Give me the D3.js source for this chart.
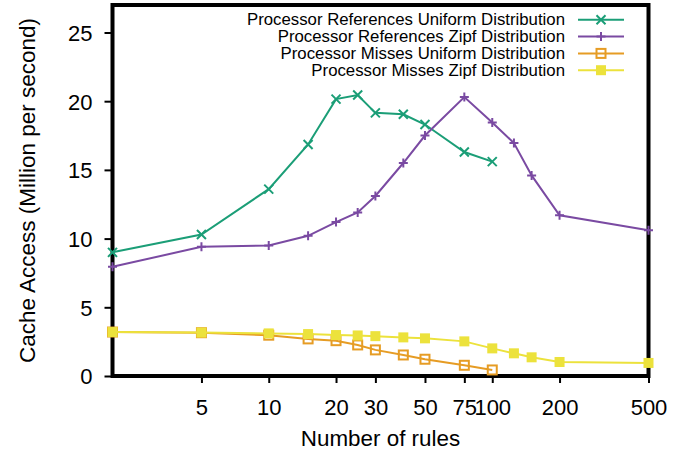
<!DOCTYPE html>
<html>
<head>
<meta charset="utf-8">
<script src="https://cdn.jsdelivr.net/npm/d3@7"></script>
<style>
  body { margin: 0; background: #fff; }
  text { font-family: "Liberation Sans", Arial, Helvetica, sans-serif; fill: #000; }
</style>
</head>
<body>
<svg id="mainSvg" width="688" height="454"></svg>
<script>
// data
var rulesUniform = [2, 5, 10, 15, 20, 25, 30, 40, 50, 75, 100];
var rulesZipf    = [2, 5, 10, 15, 20, 25, 30, 40, 50, 75, 100, 125, 150, 200, 500];

var refsUniform = [9.0, 10.3, 13.6, 16.85, 20.15, 20.45, 19.15, 19.05, 18.3, 16.3, 15.6];
var refsZipf    = [7.95, 9.4, 9.5, 10.2, 11.2, 11.9, 13.1, 15.5, 17.5, 20.3, 18.45, 16.95, 14.6, 11.7, 10.6];
var missUniform = [3.2, 3.15, 2.97, 2.7, 2.57, 2.26, 1.9, 1.53, 1.22, 0.78, 0.44];
var missZipf    = [3.2, 3.16, 3.1, 3.05, 2.98, 2.95, 2.9, 2.81, 2.74, 2.52, 2.01, 1.65, 1.36, 1.02, 0.95];

var xTicks = [5, 10, 20, 30, 50, 75, 100, 200, 500];
var yTicks = [0, 5, 10, 15, 20, 25];

var seriesNames = [
  "Processor References Uniform Distribution",
  "Processor References Zipf Distribution",
  "Processor Misses Uniform Distribution",
  "Processor Misses Zipf Distribution"
];
var seriesColors = ["#1b9e77", "#7a4aa2", "#e69c24", "#ece23c"];
var seriesMarks  = ["cross", "plus", "openSquare", "fillSquare"];

var series = [
  {name: seriesNames[0], xs: rulesUniform, ys: refsUniform},
  {name: seriesNames[1], xs: rulesZipf,    ys: refsZipf},
  {name: seriesNames[2], xs: rulesUniform, ys: missUniform},
  {name: seriesNames[3], xs: rulesZipf,    ys: missZipf}
];

// plot box
var boxLeft = 112.5, boxRight = 648.5, boxTop = 5, boxBottom = 376;

var x = d3.scaleLog().domain([2, 500]).range([boxLeft, boxRight]);
var y = d3.scaleLinear().domain([0, 27]).range([boxBottom, boxTop]);

var svg = d3.select("#mainSvg");

// y axis
var yAxisG = svg.append("g")
  .attr("transform", "translate(" + boxLeft + ",0)")
  .call(d3.axisLeft(y).tickValues(yTicks).tickSize(8).tickPadding(12).tickFormat(d3.format("d")));
yAxisG.select(".domain").remove();
yAxisG.selectAll(".tick line").attr("stroke", "#000").attr("stroke-width", 2);
yAxisG.selectAll(".tick text").style("font-size", "22px").attr("fill", "#000").attr("dy", "0.36em");

// x axis
var xAxisG = svg.append("g")
  .attr("transform", "translate(0," + boxBottom + ")")
  .call(d3.axisBottom(x).tickValues(xTicks).tickSize(7).tickPadding(16).tickFormat(d3.format("d")));
xAxisG.select(".domain").remove();
xAxisG.selectAll(".tick line").attr("stroke", "#000").attr("stroke-width", 2);
xAxisG.selectAll(".tick text").style("font-size", "22px").attr("fill", "#000");

// frame
svg.append("rect")
  .attr("x", boxLeft).attr("y", boxTop)
  .attr("width", boxRight - boxLeft).attr("height", boxBottom - boxTop)
  .attr("fill", "none").attr("stroke", "#000").attr("stroke-width", 4);

// axis titles
svg.append("text")
  .attr("transform", "translate(27," + ((boxTop + boxBottom) / 2) + ") rotate(-90)")
  .attr("text-anchor", "middle")
  .attr("dominant-baseline", "central")
  .style("font-size", "22.5px")
  .text("Cache Access (Million per second)");

svg.append("text")
  .attr("x", (boxLeft + boxRight) / 2).attr("y", 438)
  .attr("text-anchor", "middle")
  .attr("dominant-baseline", "central")
  .style("font-size", "22.4px")
  .text("Number of rules");

function drawMark(g, kind, cx, cy, color) {
  var s = 4.5;
  if (kind == "cross") {
    g.append("path")
      .attr("d", "M" + (cx - s) + "," + (cy - s) + "L" + (cx + s) + "," + (cy + s) +
                 "M" + (cx - s) + "," + (cy + s) + "L" + (cx + s) + "," + (cy - s))
      .attr("stroke", color).attr("stroke-width", 2).attr("fill", "none");
  } else if (kind == "plus") {
    g.append("path")
      .attr("d", "M" + (cx - s) + "," + cy + "L" + (cx + s) + "," + cy +
                 "M" + cx + "," + (cy - s) + "L" + cx + "," + (cy + s))
      .attr("stroke", color).attr("stroke-width", 2).attr("fill", "none");
  } else if (kind == "openSquare") {
    g.append("rect")
      .attr("x", cx - 4.5).attr("y", cy - 4.5).attr("width", 9).attr("height", 9)
      .attr("stroke", color).attr("stroke-width", 2).attr("fill", "none");
  } else {
    g.append("rect")
      .attr("x", cx - 5).attr("y", cy - 5).attr("width", 10).attr("height", 10)
      .attr("fill", color);
  }
}

var line = d3.line()
  .x(function(d) { return x(d[0]); })
  .y(function(d) { return y(d[1]); });

series.forEach(function(s, i) {
  var pts = s.xs.map(function(v, j) { return [v, s.ys[j]]; });
  var g = svg.append("g").attr("class", "series");
  g.append("path")
    .attr("d", line(pts))
    .attr("fill", "none")
    .attr("stroke", seriesColors[i])
    .attr("stroke-width", 2);
  pts.forEach(function(p) {
    drawMark(g, seriesMarks[i], x(p[0]), y(p[1]), seriesColors[i]);
  });
});

// legend
var legend = svg.append("g").attr("class", "legend");
seriesNames.forEach(function(name, i) {
  var ly = 19.8 + i * 16.8;
  legend.append("text")
    .attr("x", 565).attr("y", ly)
    .attr("text-anchor", "end")
    .attr("dominant-baseline", "central")
    .style("font-size", "16.8px")
    .text(name);
  legend.append("line")
    .attr("x1", 578).attr("x2", 624)
    .attr("y1", ly).attr("y2", ly)
    .attr("stroke", seriesColors[i]).attr("stroke-width", 2);
  drawMark(legend, seriesMarks[i], 601, ly, seriesColors[i]);
});
</script>
</body>
</html>
